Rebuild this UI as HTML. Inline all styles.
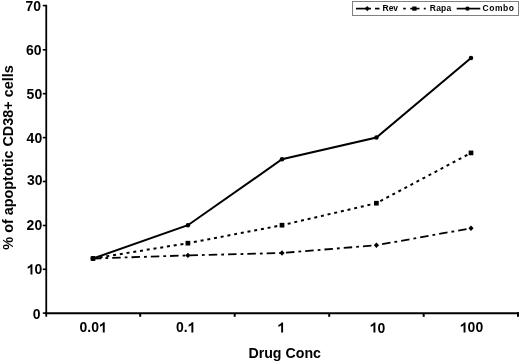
<!DOCTYPE html>
<html>
<head>
<meta charset="utf-8">
<style>
html,body{margin:0;padding:0;background:#fff;}
body{width:520px;height:363px;overflow:hidden;}
svg{display:block;will-change:transform;}
text{font-family:"Liberation Sans", sans-serif;font-weight:bold;fill:#000;}
</style>
</head>
<body>
<svg width="520" height="363" viewBox="0 0 520 363">
<rect x="0" y="0" width="520" height="363" fill="#fff"/>
<g stroke="#000" stroke-width="2" fill="none">
<line x1="46.25" y1="4.8" x2="46.25" y2="316.8" stroke-width="1.8"/>
<line x1="45" y1="313.25" x2="519" y2="313.25"/>
<line x1="42.8" y1="5.60" x2="46" y2="5.60" stroke-width="1.6"/>
<line x1="42.8" y1="49.80" x2="46" y2="49.80" stroke-width="1.6"/>
<line x1="42.8" y1="93.70" x2="46" y2="93.70" stroke-width="1.6"/>
<line x1="42.8" y1="137.60" x2="46" y2="137.60" stroke-width="1.6"/>
<line x1="42.8" y1="181.50" x2="46" y2="181.50" stroke-width="1.6"/>
<line x1="42.8" y1="225.50" x2="46" y2="225.50" stroke-width="1.6"/>
<line x1="42.8" y1="269.30" x2="46" y2="269.30" stroke-width="1.6"/>
<line x1="42.8" y1="313.10" x2="46" y2="313.10" stroke-width="1.6"/>
<line x1="140.20" y1="313" x2="140.20" y2="316.8"/>
<line x1="234.70" y1="313" x2="234.70" y2="316.8"/>
<line x1="329.20" y1="313" x2="329.20" y2="316.8"/>
<line x1="423.70" y1="313" x2="423.70" y2="316.8"/>
<line x1="518" y1="312.25" x2="518" y2="316.8"/>
</g>
<g transform="translate(0 10.90) scale(1 1.05) translate(0 -10.90)"><text x="25.53 33.31" y="10.90" font-size="14">70</text></g>
<g transform="translate(0 54.90) scale(1 1.05) translate(0 -54.90)"><text x="26.03 33.81" y="54.90" font-size="14">60</text></g>
<g transform="translate(0 98.60) scale(1 1.05) translate(0 -98.60)"><text x="26.63 34.41" y="98.60" font-size="14">50</text></g>
<g transform="translate(0 142.60) scale(1 1.05) translate(0 -142.60)"><text x="26.63 34.41" y="142.60" font-size="14">40</text></g>
<g transform="translate(0 185.30) scale(1 1.05) translate(0 -185.30)"><text x="26.93 34.71" y="185.30" font-size="14">30</text></g>
<g transform="translate(0 230.40) scale(1 1.05) translate(0 -230.40)"><text x="26.63 34.41" y="230.40" font-size="14">20</text></g>
<g transform="translate(0 274.40) scale(1 1.05) translate(0 -274.40)"><text x="34.51" y="274.40" font-size="14">0</text>
<path d="M831,0H550V1017Q386,869 140,800V1058Q277,1098 416,1189Q555,1285 603,1409H831Z" transform="matrix(0.006836 0 0 -0.006836 26.73 274.40)"/></g>
<g transform="translate(0 318.70) scale(1 1.05) translate(0 -318.70)"><text x="32.81" y="318.70" font-size="14">0</text></g>
<g transform="translate(0 332.40) scale(1 1.05) translate(0 -332.40)"><text x="79.58 87.36 91.25" y="332.40" font-size="14">0.0</text>
<path d="M831,0H550V1017Q386,869 140,800V1058Q277,1098 416,1189Q555,1285 603,1409H831Z" transform="matrix(0.006836 0 0 -0.006836 99.04 332.40)"/></g>
<g transform="translate(0 332.40) scale(1 1.05) translate(0 -332.40)"><text x="175.97 183.76" y="332.40" font-size="14">0.</text>
<path d="M831,0H550V1017Q386,869 140,800V1058Q277,1098 416,1189Q555,1285 603,1409H831Z" transform="matrix(0.006836 0 0 -0.006836 187.64 332.40)"/></g>
<g transform="translate(0 332.60) scale(1 1.05) translate(0 -332.60)"><path d="M831,0H550V1017Q386,869 140,800V1058Q277,1098 416,1189Q555,1285 603,1409H831Z" transform="matrix(0.006836 0 0 -0.006836 277.41 332.60)"/></g>
<g transform="translate(0 332.60) scale(1 1.05) translate(0 -332.60)"><text x="377.50" y="332.60" font-size="14">0</text>
<path d="M831,0H550V1017Q386,869 140,800V1058Q277,1098 416,1189Q555,1285 603,1409H831Z" transform="matrix(0.006836 0 0 -0.006836 369.71 332.60)"/></g>
<g transform="translate(0 332.50) scale(1 1.05) translate(0 -332.50)"><text x="467.61 475.39" y="332.50" font-size="14">00</text>
<path d="M831,0H550V1017Q386,869 140,800V1058Q277,1098 416,1189Q555,1285 603,1409H831Z" transform="matrix(0.006836 0 0 -0.006836 459.82 332.50)"/></g>
<text x="284.7" y="357.6" font-size="14.2" text-anchor="middle">Drug Conc</text>
<text transform="translate(12.9,157.5) rotate(-90)" font-size="14.4" text-anchor="middle">% of apoptotic CD38+ cells</text>
<g fill="none" stroke="#000" stroke-width="1.8">
<polyline points="93,258.5 187.9,255.4 282,253.0 376.4,245.25 471,228.25" stroke-dasharray="8.5 4 2.8 4.015" stroke-dashoffset="0.1"/>
<polyline points="93,258.5 187.9,243.2 282,225.2 376.4,203.2 471,152.9" stroke-dasharray="3 3.825" stroke-dashoffset="0.16" stroke-width="2"/>
<polyline points="93,258.5 187.9,225.2 282,159.3 376.4,137.5 471,57.9" stroke-width="2"/>
</g>
<g fill="#000">
<path d="M93,255.80 l2.6,2.7 l-2.6,2.7 l-2.6,-2.7 z M187.9,252.70 l2.6,2.7 l-2.6,2.7 l-2.6,-2.7 z M282,250.30 l2.6,2.7 l-2.6,2.7 l-2.6,-2.7 z M376.4,242.55 l2.6,2.7 l-2.6,2.7 l-2.6,-2.7 z M471,225.55 l2.6,2.7 l-2.6,2.7 l-2.6,-2.7 z"/>
<rect x="90.65" y="256.15" width="4.7" height="4.7"/>
<rect x="185.55" y="240.85" width="4.7" height="4.7"/>
<rect x="279.65" y="222.85" width="4.7" height="4.7"/>
<rect x="374.05" y="200.85" width="4.7" height="4.7"/>
<rect x="468.65" y="150.55" width="4.7" height="4.7"/>
<circle cx="93" cy="258.5" r="2.25"/>
<circle cx="187.9" cy="225.2" r="2.25"/>
<circle cx="282" cy="159.3" r="2.25"/>
<circle cx="376.4" cy="137.5" r="2.25"/>
<circle cx="471" cy="57.9" r="2.25"/>
</g>
<rect x="352.5" y="1.5" width="166" height="14" fill="#fff" stroke="#808080" stroke-width="1"/>
<g stroke="#000" stroke-width="1.7" fill="none">
<line x1="356" y1="8.6" x2="371" y2="8.6"/>
<line x1="375" y1="8.6" x2="379.5" y2="8.6"/>
<line x1="403.2" y1="8.6" x2="405.8" y2="8.6"/>
<line x1="410.3" y1="8.6" x2="419.5" y2="8.6"/>
<line x1="423.8" y1="8.6" x2="425.7" y2="8.6"/>
<line x1="456.7" y1="8.6" x2="480.3" y2="8.6"/>
</g>
<g fill="#000">
<path d="M367.2,6.0 l2.4,2.6 l-2.4,2.6 l-2.4,-2.6z"/>
<rect x="412.3" y="6.5" width="4.2" height="4.2"/>
<circle cx="467.5" cy="8.6" r="2.2"/>
</g>
<g font-size="8.5">
<text x="382.5" y="10.9">Rev</text>
<text x="429.8" y="10.9" letter-spacing="0.2">Rapa</text>
<text x="482.6" y="10.9" letter-spacing="0.5">Combo</text>
</g>
</svg>
</body>
</html>
